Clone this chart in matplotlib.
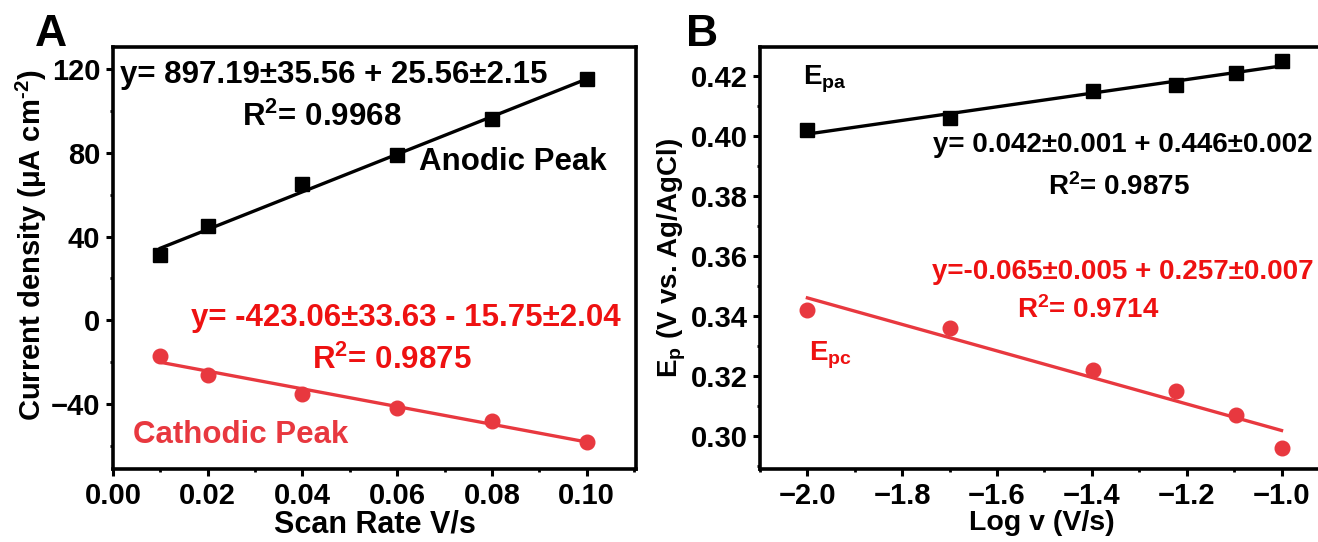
import numpy as np
import matplotlib
matplotlib.use("Agg")
import matplotlib.pyplot as plt
from matplotlib.ticker import MultipleLocator

plt.rcParams['font.family'] = ['Liberation Sans', 'DejaVu Sans']
plt.rcParams['font.weight'] = 'bold'
plt.rcParams['mathtext.fontset'] = 'custom'
plt.rcParams['mathtext.rm'] = 'Liberation Sans:bold'
plt.rcParams['mathtext.it'] = 'Liberation Sans:bold'
plt.rcParams['mathtext.bf'] = 'Liberation Sans:bold'
plt.rcParams['mathtext.default'] = 'rm'

# ---------------- data ----------------
scan_rate = [0.01, 0.02, 0.04, 0.06, 0.08, 0.10]
anodic_j = [31, 45, 65, 79, 96, 115]
cathodic_j = [-17, -26, -35, -42, -48, -58]

log_v = [-2.0, -1.699, -1.398, -1.222, -1.097, -1.0]
e_pa = [0.402, 0.406, 0.415, 0.417, 0.421, 0.425]
e_pc = [0.342, 0.336, 0.322, 0.315, 0.307, 0.296]

eq_anodic = "y= 897.19\u00b135.56 + 25.56\u00b12.15"
r2_anodic = r"R$^{2}$= 0.9968"
eq_cathodic = "y= -423.06\u00b133.63 - 15.75\u00b12.04"
r2_cathodic = r"R$^{2}$= 0.9875"
eq_pa = "y= 0.042\u00b10.001 + 0.446\u00b10.002"
r2_pa = r"R$^{2}$= 0.9875"
eq_pc = "y=-0.065\u00b10.005 + 0.257\u00b10.007"
r2_pc = r"R$^{2}$= 0.9714"

BLACK = '#000000'
RED = '#e8383f'
RED_TXT = '#ee1111'

W, H = 1318, 542
fig = plt.figure(figsize=(W / 100, H / 100), dpi=100)

def px_axes(l, t, r, b):
    return fig.add_axes([l / W, 1 - b / H, (r - l) / W, (b - t) / H])

axA = px_axes(113, 47, 636, 469)
axB = px_axes(760, 47, 1323, 469)

TICK_FS = 21
TXT_A = 22.5
TXT_B = 20

def style(ax):
    for s in ax.spines.values():
        s.set_linewidth(2.6)
    ax.tick_params(which='major', direction='out', length=5, width=2.2,
                   labelsize=TICK_FS, pad=4, top=False, right=False)
    ax.tick_params(which='minor', direction='out', length=2.5, width=2.0,
                   top=False, right=False)
    for lab in ax.get_xticklabels() + ax.get_yticklabels():
        lab.set_fontweight('bold')

def fit_line(ax, x, y, color):
    x = np.asarray(x); y = np.asarray(y)
    k, b = np.polyfit(x, y, 1)
    xs = np.array([x.min(), x.max()])
    ax.plot(xs, k * xs + b, color=color, lw=2.4, zorder=2)

# ---------------- panel A ----------------
fit_line(axA, scan_rate, anodic_j, BLACK)
axA.plot(scan_rate, anodic_j, 's', color=BLACK, ms=9.5, zorder=3)
fit_line(axA, scan_rate, cathodic_j, RED)
axA.plot(scan_rate, cathodic_j, 'o', color=RED, ms=10.5, zorder=3)
axA.set_xlim(0.0, 0.1104)
axA.set_ylim(-71, 130.5)
axA.xaxis.set_major_locator(MultipleLocator(0.02))
axA.xaxis.set_minor_locator(MultipleLocator(0.01))
axA.yaxis.set_major_locator(MultipleLocator(40))
axA.yaxis.set_minor_locator(MultipleLocator(20))
axA.xaxis.set_major_formatter(matplotlib.ticker.FormatStrFormatter('%.2f'))
style(axA)
axA.set_xlabel("Scan Rate V/s", fontsize=22, fontweight='bold', labelpad=0)
axA.set_ylabel(r"Current density (μA cm$^{\text{-2}}$)", fontsize=21,
               fontweight='bold', labelpad=2)
axA.yaxis.set_label_coords(-0.123, 0.53)

axA.text(0.0015, 117, eq_anodic, fontsize=TXT_A, color=BLACK, va='center', ha='left')
axA.text(0.044, 97, r2_anodic, fontsize=TXT_A, color=BLACK, va='center', ha='center')
axA.text(0.0646, 75.5, "Anodic Peak", fontsize=TXT_A, color=BLACK, va='center', ha='left')
axA.text(0.0618, 1.3, eq_cathodic, fontsize=TXT_A, color=RED_TXT, va='center', ha='center')
axA.text(0.0589, -19, r2_cathodic, fontsize=TXT_A, color=RED_TXT, va='center', ha='center')
axA.text(0.0042, -55, "Cathodic Peak", fontsize=TXT_A, color=RED, va='center', ha='left')

# ---------------- panel B ----------------
fit_line(axB, log_v, e_pa, BLACK)
axB.plot(log_v, e_pa, 's', color=BLACK, ms=9.5, zorder=3)
fit_line(axB, log_v, e_pc, RED)
axB.plot(log_v, e_pc, 'o', color=RED, ms=10.5, zorder=3)
axB.set_xlim(-2.1, -0.9125)
axB.set_ylim(0.289, 0.4298)
axB.xaxis.set_major_locator(MultipleLocator(0.2))
axB.xaxis.set_minor_locator(MultipleLocator(0.1))
axB.yaxis.set_major_locator(MultipleLocator(0.02))
axB.yaxis.set_minor_locator(MultipleLocator(0.01))
axB.xaxis.set_major_formatter(matplotlib.ticker.FuncFormatter(
    lambda v, p: f"{v:.1f}".replace('-', '\u2212')))
axB.yaxis.set_major_formatter(matplotlib.ticker.FormatStrFormatter('%.2f'))
style(axB)
axB.set_xlabel("Log v (V/s)", fontsize=20.5, fontweight='bold', labelpad=0)
axB.set_ylabel(r"E$_{\mathregular{p}}$ (V vs. Ag/AgCl)", fontsize=20,
               fontweight='bold', labelpad=2)

axB.text(-2.009, 0.419, r"E$_{\mathregular{pa}}$", fontsize=TXT_B, color=BLACK, va='center', ha='left')
axB.text(-1.334, 0.397, eq_pa, fontsize=TXT_B, color=BLACK, va='center', ha='center')
axB.text(-1.343, 0.383, r2_pa, fontsize=TXT_B, color=BLACK, va='center', ha='center')
axB.text(-1.334, 0.3548, eq_pc, fontsize=TXT_B, color=RED_TXT, va='center', ha='center')
axB.text(-1.408, 0.3421, r2_pc, fontsize=TXT_B, color=RED_TXT, va='center', ha='center')
axB.text(-1.996, 0.327, r"E$_{\mathregular{pc}}$", fontsize=TXT_B, color=RED_TXT, va='center', ha='left')

fig.text(35 / W, 1 - 46 / H, "A", fontsize=32, fontweight='bold', ha='left', va='baseline')
fig.text(686 / W, 1 - 46 / H, "B", fontsize=32, fontweight='bold', ha='left', va='baseline')

fig.savefig("out.png", dpi=100)
